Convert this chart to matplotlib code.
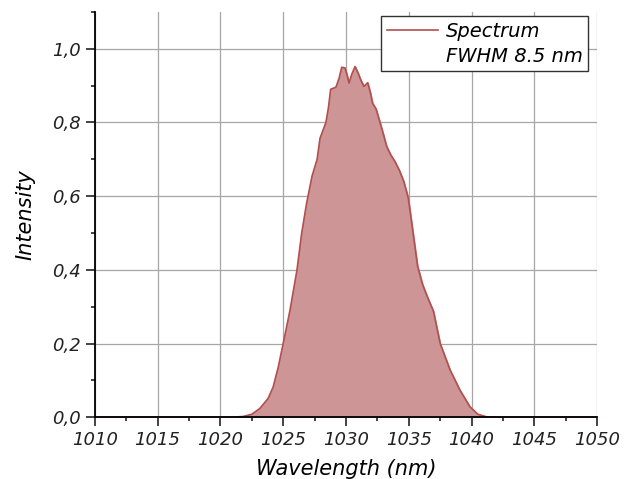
import numpy as np
import matplotlib.pyplot as plt
from matplotlib.ticker import MultipleLocator, FuncFormatter

# spectrum
wavelength = [1010, 1015, 1020, 1021.0, 1021.8, 1022.5, 1023.15, 1023.8, 1024.2, 1024.6,
              1025.0, 1025.54, 1026.1, 1026.47, 1026.86, 1027.3, 1027.7, 1027.93, 1028.4,
              1028.6, 1028.78, 1029.0, 1029.2, 1029.45, 1029.66, 1029.92, 1030.08, 1030.24,
              1030.45, 1030.72, 1030.95, 1031.17, 1031.43, 1031.73, 1031.95, 1032.12,
              1032.39, 1032.71, 1033.0, 1033.24, 1033.55, 1033.9, 1034.25, 1034.6, 1034.96,
              1035.3, 1035.7, 1036.1, 1036.5, 1036.96, 1037.5, 1038.29, 1039.08, 1039.88,
              1040.5, 1041.2, 1042, 1045, 1050]
intensity = [0.0, 0.0, 0.0, 0.0, 0.002, 0.008, 0.024, 0.051, 0.082, 0.135,
             0.2, 0.29, 0.4, 0.499, 0.58, 0.655, 0.7, 0.757, 0.8,
             0.84, 0.89, 0.893, 0.896, 0.92, 0.95, 0.948, 0.93, 0.907,
             0.93, 0.952, 0.935, 0.916, 0.898, 0.908, 0.88, 0.852,
             0.837, 0.8, 0.765, 0.735, 0.713, 0.694, 0.67, 0.64, 0.595,
             0.51, 0.41, 0.36, 0.325, 0.288, 0.2, 0.128, 0.073, 0.028,
             0.008, 0.001, 0.0, 0.0, 0.0]

plt.rcParams['font.family'] = ['DejaVu Sans']
plt.rcParams['font.style'] = 'oblique'

fig, ax = plt.subplots(figsize=(6.36, 4.79), dpi=100)
fig.subplots_adjust(left=0.149, right=0.939, bottom=0.129, top=0.975)

ax.fill_between(wavelength, intensity, color='#cd9596', zorder=2)
ax.plot(wavelength, intensity, color='#b25050', lw=1.2, label='Spectrum', zorder=3)
ax.plot([], [], ' ', label='FWHM 8.5 nm')

ax.set_xlim(1010, 1050)
ax.set_ylim(0, 1.1)
ax.xaxis.set_major_locator(MultipleLocator(5))
ax.xaxis.set_minor_locator(MultipleLocator(2.5))
ax.yaxis.set_major_locator(MultipleLocator(0.2))
ax.yaxis.set_minor_locator(MultipleLocator(0.1))
ax.yaxis.set_major_formatter(FuncFormatter(lambda v, p: f"{v:.1f}".replace('.', ',')))

ax.grid(True, which='major', color='#a6a6a6', lw=0.9, zorder=1)
ax.set_axisbelow(True)
for s in ['top', 'right']:
    ax.spines[s].set_visible(False)
for s in ['left', 'bottom']:
    ax.spines[s].set_linewidth(1.3)
    ax.spines[s].set_zorder(4)
ax.tick_params(which='major', length=6.5, width=1.2, labelsize=13, colors='#222222')
ax.tick_params(which='minor', length=3, width=1.2, colors='#222222')

ax.set_xlabel('Wavelength (nm)', fontsize=15, labelpad=7)
ax.set_ylabel('Intensity', fontsize=15, labelpad=12)

leg = ax.legend(loc='upper right', fontsize=14, frameon=True, fancybox=False,
                edgecolor='#333333', framealpha=1, handlelength=2.6,
                borderpad=0.3, labelspacing=0.3, handletextpad=0.4,
                borderaxespad=0.2, bbox_to_anchor=(0.99, 1.0))
leg.get_frame().set_linewidth(1.0)

plt.savefig('out.png', dpi=100)
